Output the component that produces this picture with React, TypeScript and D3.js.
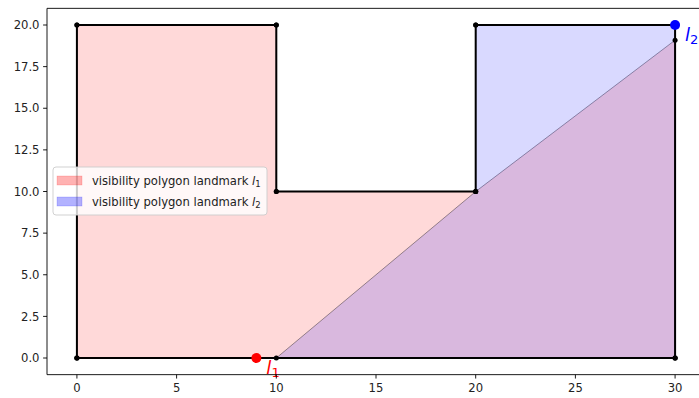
import React from "react";
import * as d3 from "d3";

const envX = [0, 0, 10, 10, 20, 20, 30, 30, 0];
const envY = [0, 20, 20, 10, 10, 20, 20, 0, 0];
const vis1X = [0, 0, 10, 10, 20, 30, 30];
const vis1Y = [0, 20, 20, 10, 10, 19.09, 0];
const vis2X = [10, 20, 20, 30, 30];
const vis2Y = [0, 10, 20, 20, 0];
const landmarkNames = ["1", "2"];
const landmarkX = [9, 30];
const landmarkY = [0, 20];
const landmarkColors = ["red", "blue"];
const legendLabels = ["visibility polygon landmark ", "visibility polygon landmark "];
const xTicks = [0, 5, 10, 15, 20, 25, 30];
const yTicks = [0, 2.5, 5, 7.5, 10, 12.5, 15, 17.5, 20];

const W = 699, H = 398;
const left = 47, top = 8.35, right = 705, bottom = 374.65;

export default function App() {
  const x = d3.scaleLinear().domain([-1.5, 31.5]).range([left, right]);
  const y = d3.scaleLinear().domain([-1, 21]).range([bottom, top]);
  const line = d3.line<[number, number]>().x(d => x(d[0])).y(d => y(d[1]));
  const pts = (xs: number[], ys: number[]) => xs.map((v, i) => [v, ys[i]] as [number, number]);
  const env = pts(envX, envY);
  const v1 = pts(vis1X, vis1Y);
  const v2 = pts(vis2X, vis2Y);
  const dots = [...env, ...v1, ...v2];
  const font = "DejaVu Sans, sans-serif";
  const fills = ["rgba(255,0,0,0.15)", "rgba(0,0,255,0.15)"];
  const legendFills = ["rgba(255,0,0,0.3)", "rgba(0,0,255,0.3)"];
  const fs = 11.6;
  return (
    <svg width={W} height={H} style={{ position: "absolute", left: 0, top: 0, background: "white" }} fontFamily={font}>
      <rect x={0} y={0} width={W} height={H} fill="white" />
      <path d={line(v1)! + "Z"} fill={fills[0]} stroke="rgba(0,0,0,0.55)" strokeWidth={0.7} />
      <path d={line(v2)! + "Z"} fill={fills[1]} stroke="rgba(0,0,0,0.55)" strokeWidth={0.7} />
      <path d={line(env)!} fill="none" stroke="black" strokeWidth={2} strokeLinejoin="round" />
      {dots.map((d, i) => (
        <circle key={i} cx={x(d[0])} cy={y(d[1])} r={2.5} fill="black" />
      ))}
      {landmarkX.map((lx, i) => (
        <g key={"lm" + i}>
          <circle cx={x(lx)} cy={y(landmarkY[i])} r={5} fill={landmarkColors[i]} />
          <text x={x(lx) + 10} y={y(landmarkY[i]) + 16} fill={landmarkColors[i]} fontSize={18}>
            <tspan fontStyle="italic">l</tspan>
            <tspan fontSize={13} dy={3}>{landmarkNames[i]}</tspan>
          </text>
        </g>
      ))}
      {/* spines */}
      <line x1={left} x2={left} y1={top} y2={bottom} stroke="black" strokeWidth={0.9} />
      <line x1={left} x2={right} y1={bottom} y2={bottom} stroke="black" strokeWidth={0.9} />
      <line x1={left} x2={right} y1={top} y2={top} stroke="black" strokeWidth={0.9} />
      <line x1={right} x2={right} y1={top} y2={bottom} stroke="black" strokeWidth={0.9} />
      {xTicks.map(t => (
        <g key={"xt" + t}>
          <line x1={x(t)} x2={x(t)} y1={bottom} y2={bottom + 3.9} stroke="black" strokeWidth={0.9} />
          <text x={x(t)} y={bottom + 17.8} textAnchor="middle" fontSize={fs} fill="#222">{t}</text>
        </g>
      ))}
      {yTicks.map(t => (
        <g key={"yt" + t}>
          <line x1={left - 3.9} x2={left} y1={y(t)} y2={y(t)} stroke="black" strokeWidth={0.9} />
          <text x={left - 7.5} y={y(t) + 4.2} textAnchor="end" fontSize={fs} fill="#222">{t.toFixed(1)}</text>
        </g>
      ))}
      {/* legend */}
      <rect x={53} y={167} width={214} height={48} rx={3} fill="rgba(255,255,255,0.8)" stroke="#cccccc" strokeWidth={0.9} />
      {legendLabels.map((lab, i) => (
        <g key={"lg" + i}>
          <rect x={57} y={176 + i * 21} width={25} height={9} fill={legendFills[i]} stroke={legendFills[i]} strokeWidth={0.5} />
          <text x={92} y={185 + i * 21} fontSize={fs} fill="#222">
            {lab}
            <tspan fontStyle="italic">l</tspan>
            <tspan fontSize={8.5} dy={2}>{landmarkNames[i]}</tspan>
          </text>
        </g>
      ))}
    </svg>
  );
}
